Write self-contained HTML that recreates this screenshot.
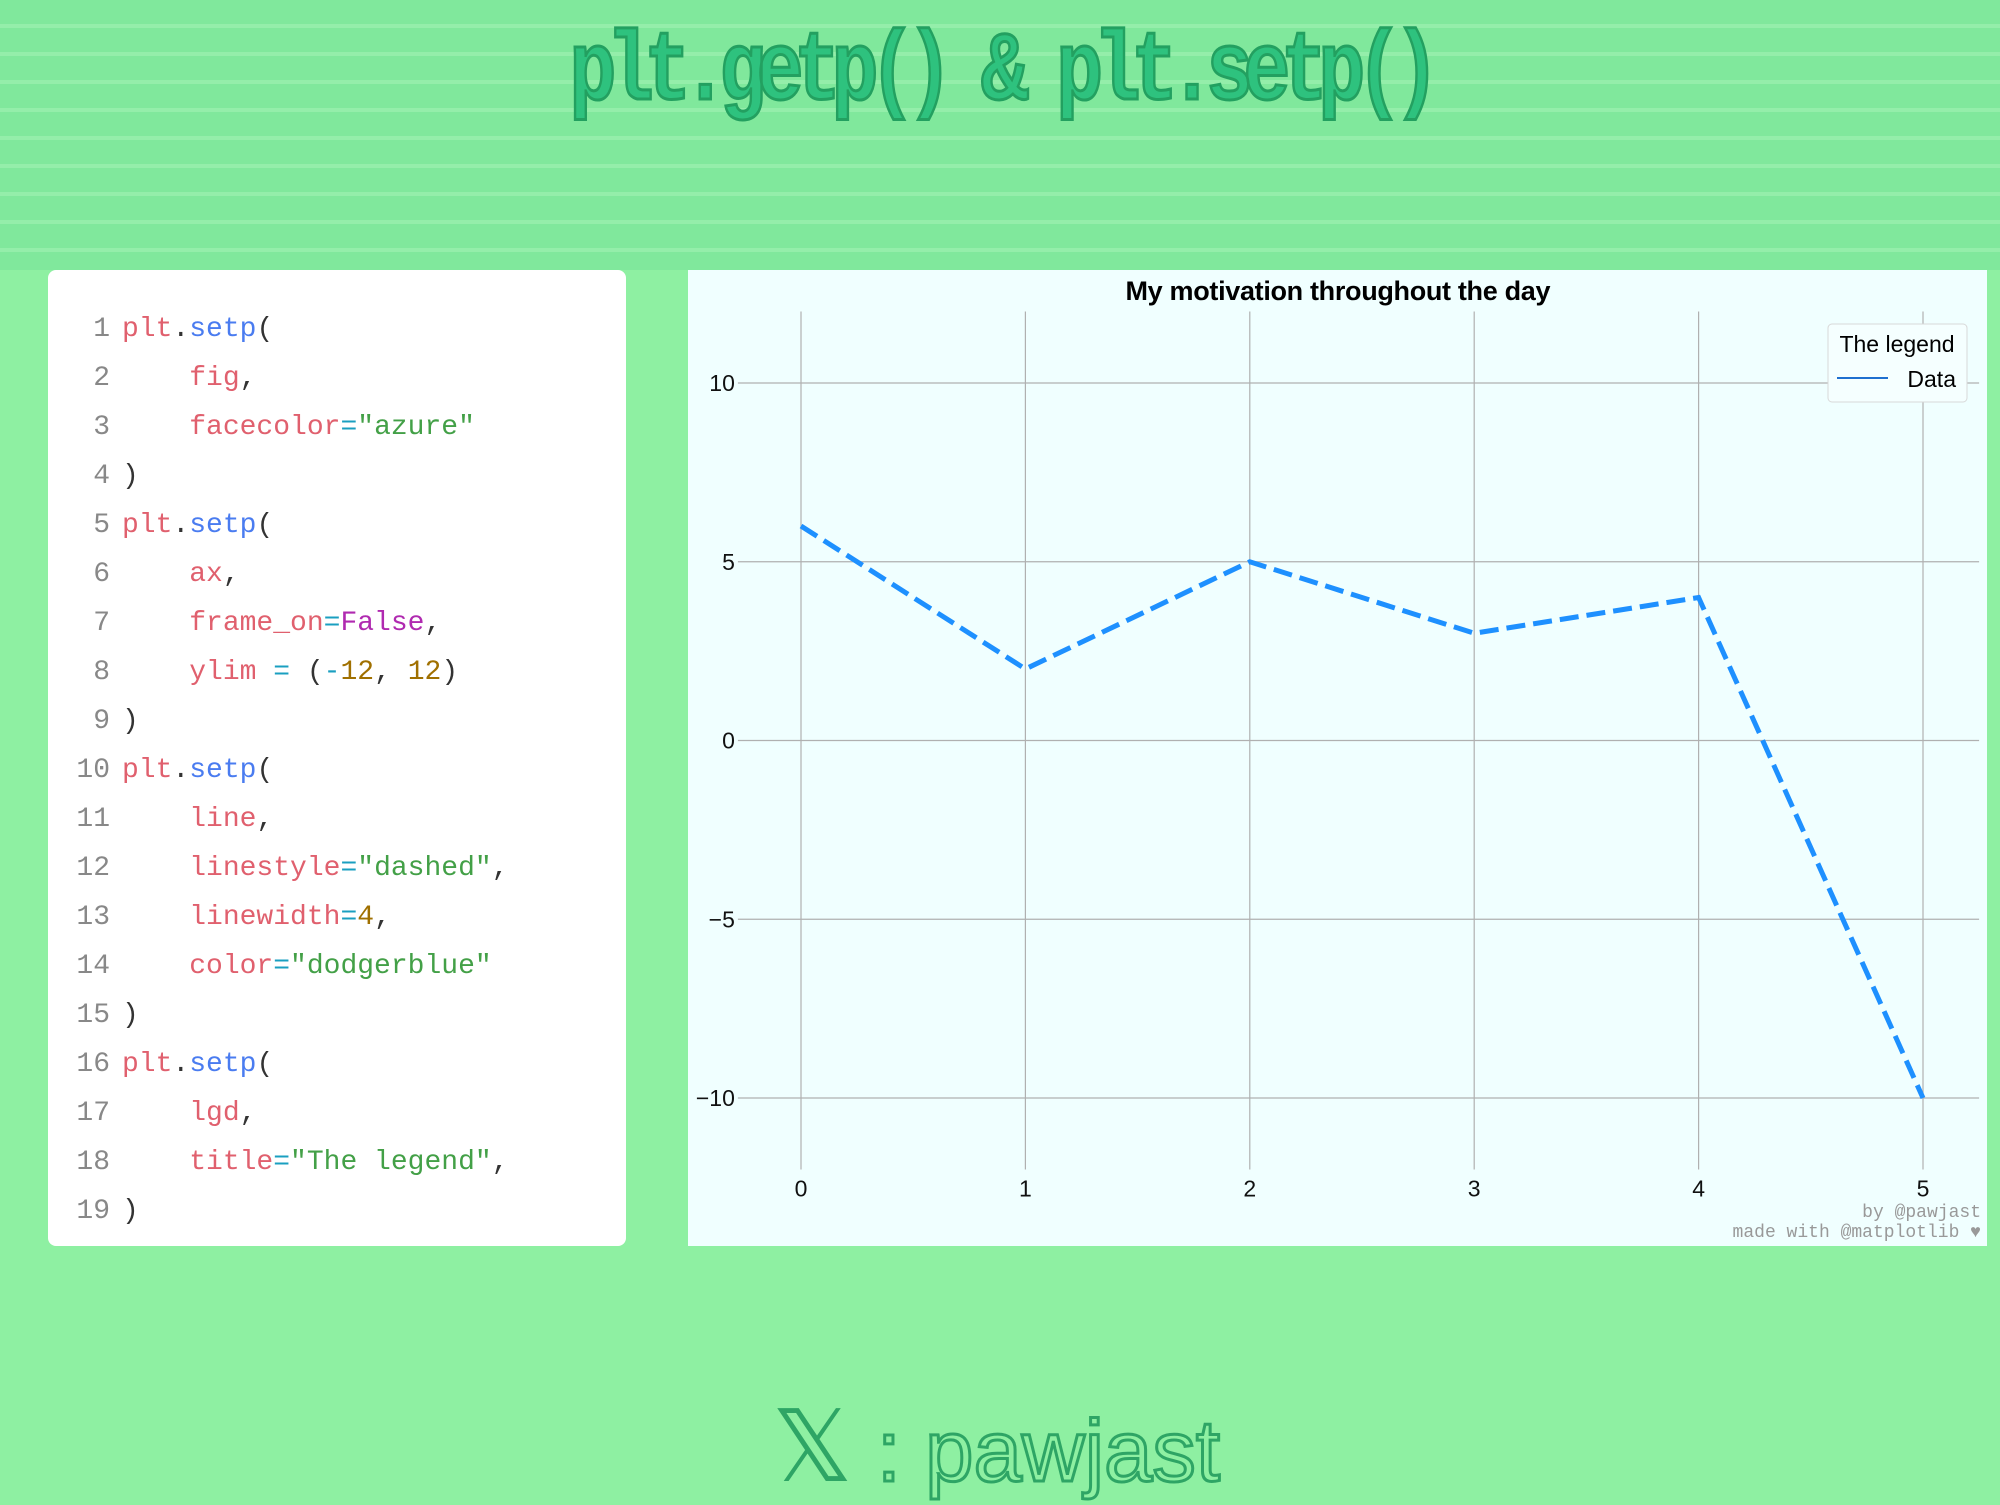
<!DOCTYPE html>
<html><head><meta charset="utf-8"><style>
body{margin:0;width:2000px;height:1500px;overflow:hidden;position:relative;font-family:"Liberation Sans",sans-serif;
background:#8ef0a2;}
.stripes{position:absolute;left:0;top:0;width:2000px;height:270px;
background:repeating-linear-gradient(to bottom,#80e89c 0px,#80e89c 24px,#94eeaa 24px,#94eeaa 28px);}
#title{position:absolute;left:0;width:2000px;top:18px;text-align:center;font-family:"Liberation Mono",monospace;font-weight:bold;
font-size:98px;color:#2ec27e;-webkit-text-stroke:3px #23a060;letter-spacing:-12px;transform:scaleX(0.8);}
#code{position:absolute;left:48px;top:270px;width:578px;height:976px;background:#fff;border-radius:8px;}
.ln{position:absolute;left:0;width:62px;text-align:right;font-family:"Liberation Mono",monospace;font-size:28px;color:#888;}
.cd{position:absolute;left:74px;font-family:"Liberation Mono",monospace;font-size:28px;color:#333;white-space:pre;}
.r{color:#e0606e}.b{color:#4a7cf0}.g{color:#43a047}.p{color:#b02ab0}.o{color:#a07000}.e{color:#1a9fc0}
#chart{position:absolute;left:688px;top:270px;}
#foot{position:absolute;left:772px;top:1388px;font-size:87px;color:transparent;-webkit-text-stroke:3px #2ea565;white-space:nowrap;}
</style></head><body>
<div class="stripes"></div>
<div id="title">plt.getp() &amp; plt.setp()</div>
<div id="code"></div>
<svg id="chart" width="1299" height="976"></svg>
<div id="foot"><span style="-webkit-text-stroke:0;color:#2ea565;font-size:100px">𝕏</span> : pawjast</div>
<script>
const codeLines=[
'<span class="r">plt</span>.<span class="b">setp</span>(',
'    <span class="r">fig</span>,',
'    <span class="r">facecolor</span><span class="e">=</span><span class="g">"azure"</span>',
')',
'<span class="r">plt</span>.<span class="b">setp</span>(',
'    <span class="r">ax</span>,',
'    <span class="r">frame_on</span><span class="e">=</span><span class="p">False</span>,',
'    <span class="r">ylim</span> <span class="e">=</span> (<span class="e">-</span><span class="o">12</span>, <span class="o">12</span>)',
')',
'<span class="r">plt</span>.<span class="b">setp</span>(',
'    <span class="r">line</span>,',
'    <span class="r">linestyle</span><span class="e">=</span><span class="g">"dashed"</span>,',
'    <span class="r">linewidth</span><span class="e">=</span><span class="o">4</span>,',
'    <span class="r">color</span><span class="e">=</span><span class="g">"dodgerblue"</span>',
')',
'<span class="r">plt</span>.<span class="b">setp</span>(',
'    <span class="r">lgd</span>,',
'    <span class="r">title</span><span class="e">=</span><span class="g">"The legend"</span>,',
')'];
const code=document.getElementById('code');
codeLines.forEach((h,i)=>{
  const y=(i*49+44)+'px';
  const n=document.createElement('div');n.className='ln';n.style.top=y;n.textContent=i+1;
  
  
  const c=document.createElement('div');c.className='cd';c.style.top=y;c.innerHTML=h;
  
  
  code.appendChild(n);code.appendChild(c);
});

const xCats=[0,1,2,3,4,5];
const yVals=[6,2,5,3,4,-10];
const yTicks=[10,5,0,-5,-10];
const xTickLabels=['0','1','2','3','4','5'];
const NS='http://www.w3.org/2000/svg';
const svg=document.getElementById('chart');
const OX=688,OY=270;
const X=v=>801-OX+v*224.4;
const Y=v=>740.5-OY-v*35.75;
function el(t,a,p){const e=document.createElementNS(NS,t);for(const k in a)e.setAttribute(k,a[k]);(p||svg).appendChild(e);return e;}
const bg=el('rect',{x:0,y:0,width:1299,height:976,fill:'#f0ffff'});


const tt=el('text',{x:650,y:30,'text-anchor':'middle','font-size':27,'font-weight':'bold',fill:'#000',textLength:425});tt.textContent='My motivation throughout the day';


xCats.forEach((c,i)=>{
  const g=el('line',{x1:X(c),x2:X(c),y1:Y(12),y2:Y(-12),stroke:'#b0b0b0','stroke-width':1.2});
  
  
  const t=el('text',{x:X(c),y:Y(-12)+27,'text-anchor':'middle','font-size':23,fill:'#111'});t.textContent=xTickLabels[i];
  
  
});
yTicks.forEach(v=>{
  const g=el('line',{x1:X(-0.25)-7,x2:X(5.25),y1:Y(v),y2:Y(v),stroke:'#b0b0b0','stroke-width':1.2});
  
  
  const t=el('text',{x:X(-0.25)-10,y:Y(v)+8,'text-anchor':'end','font-size':23,fill:'#111'});t.textContent=v<0?'\u2212'+(-v):v;
  
  
});
const line=el('polyline',{points:xCats.map((c,i)=>X(c)+','+Y(yVals[i])).join(' '),fill:'none',stroke:'#1e90ff','stroke-width':5,'stroke-dasharray':'19 8'});


const lg=el('g',{});


el('rect',{x:1140,y:54,width:139,height:78,rx:4,fill:'#f5ffff',stroke:'#d8d8d8'},lg);
const lt=el('text',{x:1209,y:82,'text-anchor':'middle','font-size':23,fill:'#000'},lg);lt.textContent='The legend';
el('line',{x1:1149,x2:1200,y1:108,y2:108,stroke:'#1e70d0','stroke-width':2},lg);
const ld=el('text',{x:1268,y:117,'text-anchor':'end','font-size':23,fill:'#000'},lg);ld.textContent='Data';
[['by @pawjast',947],['made with @matplotlib \u2665',967]].forEach(([s,y])=>{
  const t=el('text',{x:1293,y:y,'text-anchor':'end','font-size':18,'font-family':'Liberation Mono, monospace',fill:'#999'});t.textContent=s;
  
  
});
</script>
</body></html>
